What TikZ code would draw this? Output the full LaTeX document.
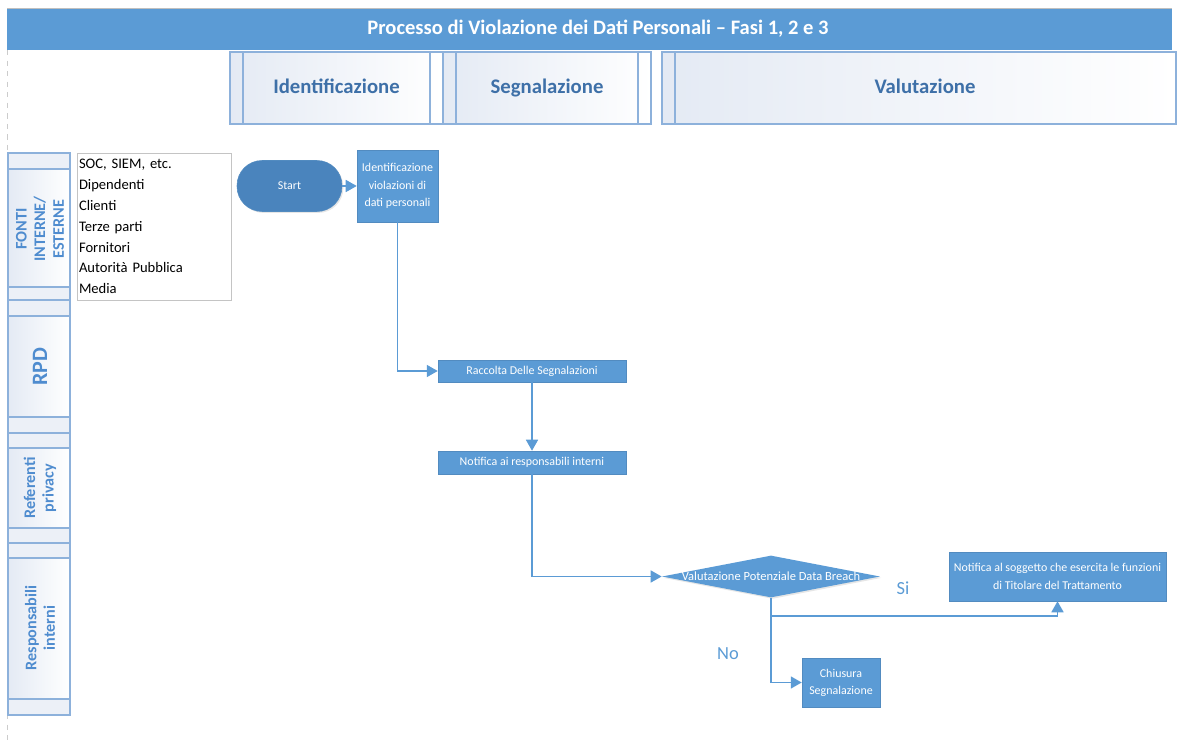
\documentclass[tikz,border=0pt]{standalone}
\usepackage{fontspec}
\setmainfont{Carlito}
\usepackage{tikz}
\usetikzlibrary{arrows.meta,shapes.geometric,shadows}
\definecolor{bluScatola}{HTML}{5B9BD5}
\definecolor{bluAvvio}{HTML}{4A84BD}
\definecolor{bluTesto}{HTML}{3E70A8}
\definecolor{bluCorsia}{HTML}{4F8CCF}
\definecolor{bordoFase}{HTML}{8DB1DB}
\definecolor{sfondoFase}{HTML}{E4EAF4}
\definecolor{grigioBordo}{HTML}{C4C4C4}

\begin{document}
\begin{tikzpicture}[
    x=0.02cm, y=-0.02cm,
    >={Triangle[length=2.2mm, width=2.4mm]},
    scatola/.style={
        rectangle,
        fill=bluScatola,
        draw=bluScatola!90!black,
        line width=0.3pt,
        text=white,
        align=center,
        inner sep=1pt,
        font=\fontsize{6.8}{9.8}\selectfont,
        drop shadow={opacity=0.2, shadow xshift=0.8pt, shadow yshift=-0.8pt}
    },
    freccia/.style={->, line width=0.9pt, bluScatola},
    linea/.style={line width=0.9pt, bluScatola},
    bordo/.style={line width=0.6pt, bordoFase},
    fase/.style={
        font=\fontsize{11.8}{14}\selectfont\bfseries,
        text=bluTesto,
        text height=1.6ex,
        text depth=0.4ex
    },
    corsiaTesto/.style={
        rotate=90,
        align=center,
        text=bluCorsia,
        font=\fontsize{9.2}{10.6}\selectfont\bfseries
    },
    etichetta/.style={text=bluScatola, font=\fontsize{10.5}{12}\selectfont}
]

\useasboundingbox (0,0) rectangle (1178,746);

% ---------------- TITOLO ----------------

\draw[gray!40, dashed] (7,50) -- (7,745);

\fill[bluScatola] (7,8) rectangle (1172,50);
\draw[gray!50, line width=0.4pt] (7,8) -- (1172,8);

\node[
    text=white,
    font=\fontsize{11.7}{14}\selectfont\bfseries
] (titolo) at (598,29)
    {Processo di Violazione dei Dati Personali -- Fasi 1, 2 e 3};


% ---------------- FASI ----------------

% Fase Identificazione
\shade[left color=sfondoFase, right color=white] (230,52) rectangle (443,124);
\draw[bordo] (230,52) rectangle (443,124);
\draw[bordo] (243,52) -- (243,124);
\draw[bordo] (430,52) -- (430,124);
\node[fase] (identificazione) at (336.5,88) {Identificazione};

% Fase Segnalazione
\shade[left color=sfondoFase, right color=white] (443,52) rectangle (651,124);
\draw[bordo] (443,52) rectangle (651,124);
\draw[bordo] (456,52) -- (456,124);
\draw[bordo] (638,52) -- (638,124);
\node[fase] (segnalazione) at (547,88) {Segnalazione};

% Fase Valutazione
\shade[left color=sfondoFase, right color=white] (662,52) rectangle (1176,124);
\draw[bordo] (662,52) rectangle (1176,124);
\draw[bordo] (675,52) -- (675,124);
\node[fase] (valutazione) at (925,88) {Valutazione};


% ---------------- CORSIE ----------------

% Corsia fonti
\shade[left color=sfondoFase, right color=white] (8,153) rectangle (70,300);
\fill[sfondoFase!70] (8,153) rectangle (70,169);
\fill[sfondoFase!70] (8,287) rectangle (70,300);
\draw[bordo] (8,153) rectangle (70,300);
\draw[bordo] (8,169) -- (70,169);
\draw[bordo] (8,287) -- (70,287);
\node[corsiaTesto] (fonti) at (40,229) {FONTI\\INTERNE/\\ESTERNE};

% Corsia RPD
\shade[left color=sfondoFase, right color=white] (8,300) rectangle (70,433);
\fill[sfondoFase!70] (8,300) rectangle (70,316);
\fill[sfondoFase!70] (8,417) rectangle (70,433);
\draw[bordo] (8,300) rectangle (70,433);
\draw[bordo] (8,316) -- (70,316);
\draw[bordo] (8,417) -- (70,417);
\node[corsiaTesto, font=\fontsize{12.5}{14}\selectfont\bfseries] (rpd) at (40,367) {RPD};

% Corsia referenti
\shade[left color=sfondoFase, right color=white] (8,433) rectangle (70,543);
\fill[sfondoFase!70] (8,433) rectangle (70,448);
\fill[sfondoFase!70] (8,528) rectangle (70,543);
\draw[bordo] (8,433) rectangle (70,543);
\draw[bordo] (8,448) -- (70,448);
\draw[bordo] (8,528) -- (70,528);
\node[corsiaTesto] (referenti) at (40,488) {Referenti\\privacy};

% Corsia responsabili
\shade[left color=sfondoFase, right color=white] (8,543) rectangle (70,715);
\fill[sfondoFase!70] (8,543) rectangle (70,558);
\fill[sfondoFase!70] (8,699) rectangle (70,715);
\draw[bordo] (8,543) rectangle (70,715);
\draw[bordo] (8,558) -- (70,558);
\draw[bordo] (8,699) -- (70,699);
\node[corsiaTesto] (responsabili) at (40,628) {Responsabili\\interni};


% ---------------- ELENCO FONTI ----------------

\node[
    draw=grigioBordo,
    fill=white,
    line width=0.5pt,
    minimum width=3.08cm,
    minimum height=2.94cm,
    text width=3.0cm,
    align=left,
    inner sep=0.04cm,
    font=\fontsize{8.3}{11.9}\selectfont,
    drop shadow={opacity=0.15, shadow xshift=0.6pt, shadow yshift=-0.6pt}
] (elenco) at (154,226.5)
    {SOC, SIEM, etc.\\Dipendenti\\Clienti\\Terze parti\\Fornitori\\Autorità Pubblica\\Media};


% ---------------- FLUSSO ----------------

\node[
    scatola,
    fill=bluAvvio,
    rounded corners=0.5cm,
    minimum width=2.1cm,
    minimum height=1.02cm
] (start) at (289.5,186) {Start};

\node[scatola, minimum width=1.62cm, minimum height=1.44cm] (ident) at (397.5,186)
    {Identificazione\\violazioni di\\dati personali};

\node[scatola, minimum width=3.76cm, minimum height=0.44cm] (raccolta) at (532,371)
    {Raccolta Delle Segnalazioni};

\node[scatola, minimum width=3.76cm, minimum height=0.46cm] (notifica) at (532,462.5)
    {Notifica ai responsabili interni};

\node[
    shape=diamond,
    fill=bluScatola,
    inner sep=0pt,
    minimum width=4.36cm,
    minimum height=0.84cm,
    drop shadow={opacity=0.2, shadow xshift=0.8pt, shadow yshift=-0.8pt},
    label={[text=white, font=\fontsize{7.1}{8}\selectfont]center:Valutazione Potenziale Data Breach}
] (valuta) at (771,576.5) {};

\node[scatola, minimum width=4.34cm, minimum height=0.98cm] (titolare) at (1057.5,576.5)
    {Notifica al soggetto che esercita le funzioni\\di Titolare del Trattamento};

\node[scatola, minimum width=1.56cm, minimum height=0.98cm] (chiusura) at (841,682.5)
    {Chiusura\\Segnalazione};


% ---------------- FRECCE ----------------

\draw[freccia] (start) -- (ident);
\draw[freccia] (ident.south) |- (raccolta.west);
\draw[freccia] (raccolta) -- (notifica);
\draw[freccia] (notifica.south) |- (valuta.west);

\coordinate (bivio) at (771,616);
\draw[linea] (valuta.south) -- (bivio);
\draw[freccia] (bivio) -| (titolare.south);
\draw[freccia] (bivio) |- (chiusura.west);

\node[etichetta] (si) at (903,588) {Si};
\node[etichetta] (no) at (728,654) {No};

\end{tikzpicture}
\end{document}
